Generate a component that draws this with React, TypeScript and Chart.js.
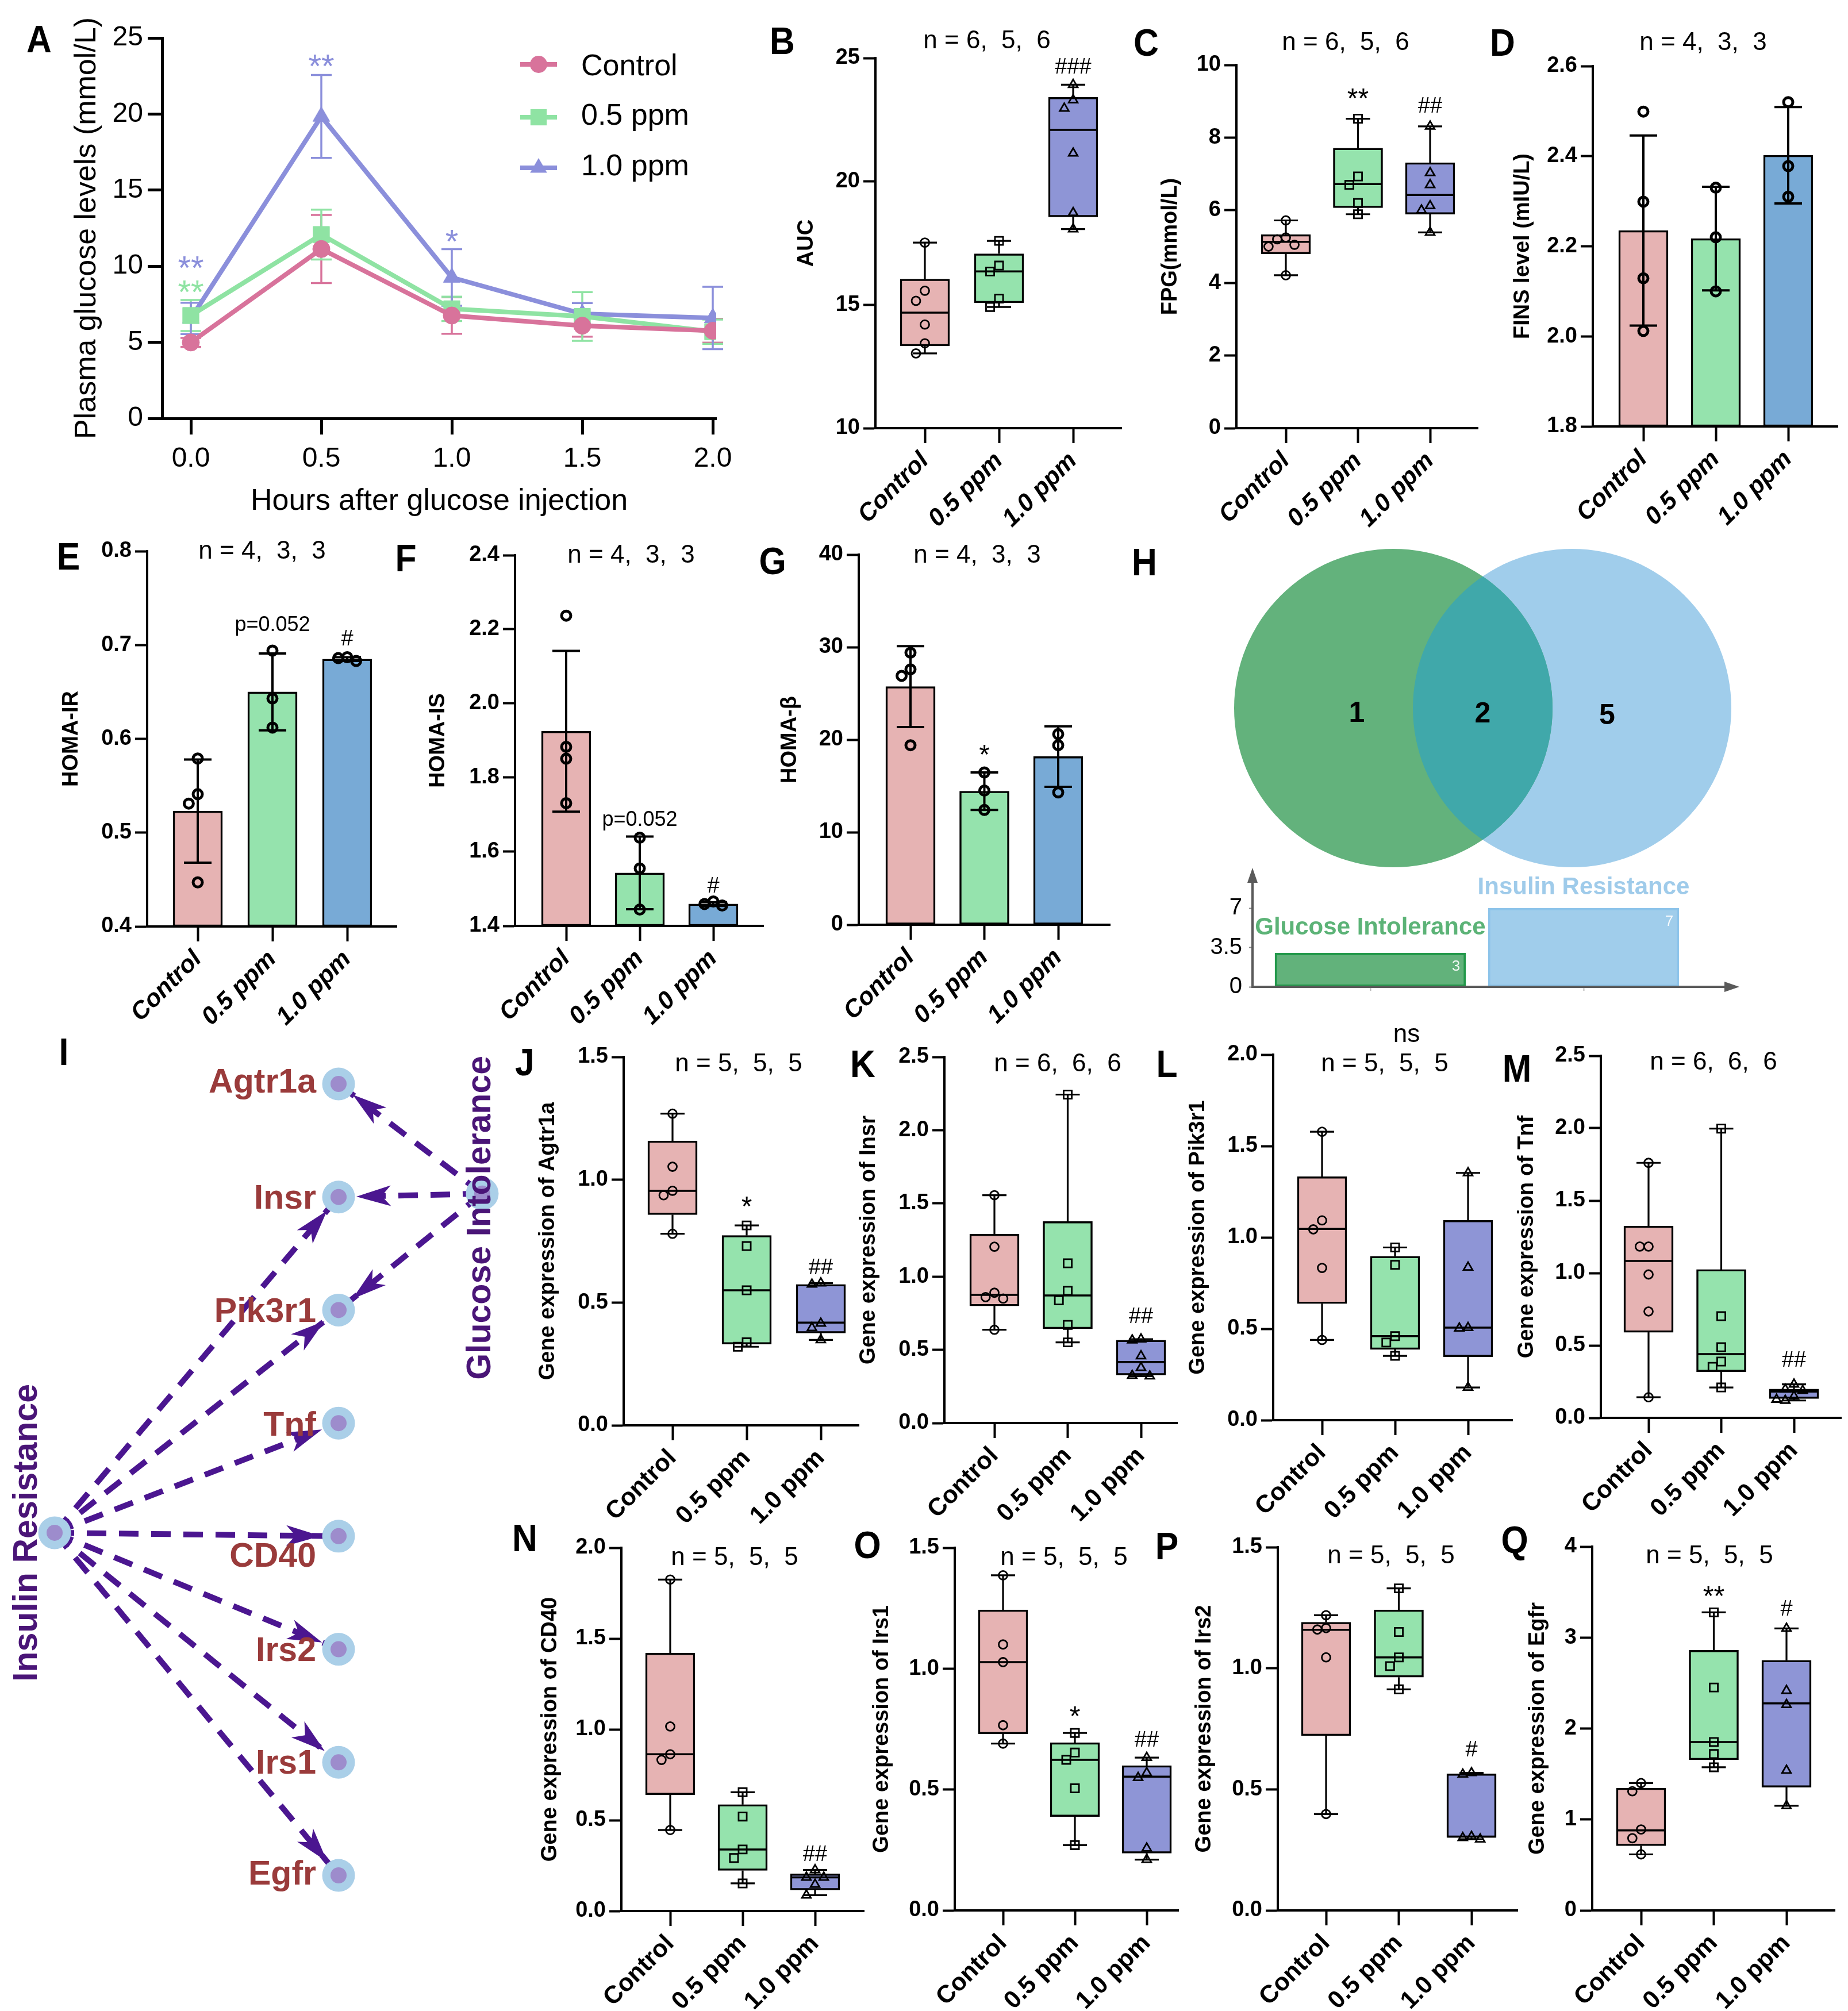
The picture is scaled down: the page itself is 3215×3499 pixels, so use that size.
import React, { useEffect, useRef } from "react";
import { Chart, registerables } from "chart.js";

Chart.register(...registerables);

const FF = "'Liberation Sans', Arial, Helvetica, sans-serif";
Chart.defaults.font.family = FF;
Chart.defaults.color = "#000";

const GROUPS = ["Control", "0.5 ppm", "1.0 ppm"];

// ---------------- Panel A (glucose tolerance test) ----------------
const aHours = [0, 0.5, 1.0, 1.5, 2.0];
const aTicksX = [0, 0.5, 1.0, 1.5, 2.0];
const aTicksY = [0, 5, 10, 15, 20, 25];
const aControl = [4.99, 11.13, 6.76, 6.09, 5.76];
const aControlErr = [0.3, 2.24, 1.2, 0.72, 0.78];
const a05 = [6.76, 12.08, 7.2, 6.7, 5.7];
const a05Err = [1.02, 1.64, 0.8, 1.6, 0.8];
const a10 = [6.57, 19.84, 9.26, 6.87, 6.6];
const a10Err = [1.03, 2.72, 1.86, 0.71, 2.05];
const aMarks = [
  { x: 0.5, v: 23.5, t: "**", s: 2 },
  { x: 1.0, v: 12.0, t: "*", s: 2 },
  { x: 0.0, v: 10.25, t: "**", s: 2 },
  { x: 0.0, v: 8.66, t: "**", s: 1 },
];

// ---------------- Box panels: [min, q1, median, q3, max] ----------------
const bTicks = [10, 15, 20, 25];
const bBox = [[13.03, 13.33, 14.68, 16.04, 17.52], [14.91, 15.08, 16.35, 17.07, 17.59], [18.07, 18.56, 22.09, 23.41, 23.92]];
const bPts = [[17.52, 15.57, 15.16, 14.2, 13.44, 13.03], [17.59, 16.59, 16.35, 15.25, 14.91], [23.92, 23.3, 22.96, 21.14, 18.73, 18.07]];
const bMarks = [{ g: 2, v: 24.68, t: "###" }];

const cTicks = [0, 2, 4, 6, 8, 10];
const cBox = [[4.21, 4.8, 5.13, 5.33, 5.72], [5.89, 6.07, 6.72, 7.71, 8.52], [5.39, 5.89, 6.42, 7.31, 8.31]];
const cPts = [[5.72, 5.25, 5.2, 5.05, 5.0, 4.21], [8.52, 6.93, 6.7, 6.2, 5.89], [8.31, 7.03, 6.7, 6.12, 6.0, 5.39]];
const cMarks = [{ g: 1, v: 9.22, t: "**" }, { g: 2, v: 8.9, t: "##" }];

// ---------------- Bar panels: mean, SD, points ----------------
const dTicks = [1.8, 2.0, 2.2, 2.4, 2.6];
const dMean = [2.235, 2.217, 2.402];
const dSd = [0.211, 0.115, 0.107];
const dPts = [[2.499, 2.299, 2.129, 2.012], [2.33, 2.22, 2.1], [2.52, 2.378, 2.31]];

const eTicks = [0.4, 0.5, 0.6, 0.7, 0.8];
const eMean = [0.523, 0.65, 0.685];
const eSd = [0.055, 0.041, 0.002];
const ePts = [[0.579, 0.541, 0.531, 0.447], [0.694, 0.643, 0.612], [0.687, 0.686, 0.683]];
const eMarks = [{ g: 1, v: 0.7205, t: "p=0.052" }, { g: 2, v: 0.708, t: "#" }];

const fTicks = [1.4, 1.6, 1.8, 2.0, 2.2, 2.4];
const fMean = [1.925, 1.543, 1.459];
const fSd = [0.217, 0.098, 0.005];
const fPts = [[2.237, 1.883, 1.851, 1.731], [1.638, 1.555, 1.444], [1.466, 1.459, 1.455]];
const fMarks = [{ g: 1, v: 1.684, t: "p=0.052" }, { g: 2, v: 1.511, t: "#" }];

const gTicks = [0, 10, 20, 30, 40];
const gMean = [25.74, 14.43, 18.18];
const gSd = [4.37, 2.03, 3.27];
const gPts = [[29.4, 27.6, 26.9, 19.4], [16.46, 14.5, 12.4], [20.6, 19.4, 14.3]];
const gMarks = [{ g: 1, v: 18.9, t: "*" }];

// ---------------- Gene expression box panels ----------------
const jTicks = [0, 0.5, 1.0, 1.5];
const jBox = [[0.78, 0.858, 0.955, 1.158, 1.269], [0.32, 0.331, 0.55, 0.773, 0.814], [0.348, 0.376, 0.418, 0.574, 0.579]];
const jPts = [[1.269, 1.053, 0.955, 0.937, 0.78], [0.814, 0.73, 0.55, 0.338, 0.32], [0.579, 0.574, 0.415, 0.397, 0.348]];
const jMarks = [{ g: 1, v: 0.911, t: "*" }, { g: 2, v: 0.647, t: "##" }];

const kTicks = [0, 0.5, 1.0, 1.5, 2.0, 2.5];
const kBox = [[0.637, 0.8, 0.875, 1.29, 1.556], [0.551, 0.644, 0.871, 1.376, 2.243], [0.32, 0.328, 0.417, 0.566, 0.573]];
const kPts = [[1.556, 1.204, 0.89, 0.86, 0.85, 0.637], [2.243, 1.091, 0.903, 0.838, 0.67, 0.551], [0.573, 0.566, 0.458, 0.378, 0.324, 0.32]];
const kMarks = [{ g: 2, v: 0.735, t: "##" }];

const lTicks = [0, 0.5, 1.0, 1.5, 2.0];
const lBox = [[0.439, 0.638, 1.046, 1.332, 1.578], [0.352, 0.387, 0.46, 0.897, 0.945], [0.179, 0.347, 0.506, 1.093, 1.353]];
const lPts = [[1.578, 1.093, 1.044, 0.833, 0.439], [0.945, 0.85, 0.46, 0.425, 0.352], [1.353, 0.836, 0.506, 0.503, 0.179]];
const lMarks: { g: number; v: number; t: string }[] = [];

const mTicks = [0, 0.5, 1.0, 1.5, 2.0, 2.5];
const mBox = [[0.142, 0.591, 1.083, 1.325, 1.761], [0.21, 0.319, 0.44, 1.024, 1.997], [0.12, 0.133, 0.182, 0.199, 0.232]];
const mPts = [[1.761, 1.183, 1.183, 0.99, 0.735, 0.142], [1.997, 0.702, 0.488, 0.389, 0.352, 0.21], [0.232, 0.197, 0.188, 0.149, 0.127, 0.12]];
const mMarks = [{ g: 2, v: 0.405, t: "##" }];

const nTicks = [0, 0.5, 1.0, 1.5, 2.0];
const nBox = [[0.446, 0.64, 0.863, 1.42, 1.825], [0.152, 0.223, 0.339, 0.586, 0.654], [0.087, 0.116, 0.185, 0.205, 0.226]];
const nPts = [[1.825, 1.016, 0.863, 0.832, 0.446], [0.654, 0.52, 0.339, 0.292, 0.152], [0.226, 0.185, 0.185, 0.146, 0.087]];
const nMarks = [{ g: 2, v: 0.319, t: "##" }];

const oTicks = [0, 0.5, 1.0, 1.5];
const oBox = [[0.69, 0.73, 1.027, 1.243, 1.386], [0.27, 0.388, 0.623, 0.694, 0.734], [0.21, 0.237, 0.553, 0.599, 0.632]];
const oPts = [[1.386, 1.1, 1.027, 0.766, 0.69], [0.734, 0.653, 0.623, 0.505, 0.27], [0.632, 0.569, 0.549, 0.257, 0.21]];
const oMarks = [{ g: 1, v: 0.824, t: "*" }, { g: 2, v: 0.71, t: "##" }];

const pTicks = [0, 0.5, 1.0, 1.5];
const pBox = [[0.398, 0.722, 1.159, 1.19, 1.219], [0.913, 0.963, 1.045, 1.241, 1.33], [0.294, 0.301, 0.305, 0.564, 0.568]];
const pPts = [[1.219, 1.166, 1.16, 1.045, 0.398], [1.33, 1.15, 1.045, 1.009, 0.913], [0.568, 0.562, 0.305, 0.3, 0.294]];
const pMarks = [{ g: 2, v: 0.668, t: "#" }];

const qTicks = [0, 1, 2, 3, 4];
const qBox = [[0.616, 0.712, 0.88, 1.346, 1.4], [1.574, 1.656, 1.852, 2.86, 3.277], [1.15, 1.354, 2.276, 2.75, 3.1]];
const qPts = [[1.4, 1.31, 0.89, 0.794, 0.616], [3.277, 2.451, 1.852, 1.72, 1.574], [3.1, 2.416, 2.262, 1.539, 1.15]];
const qMarks = [{ g: 1, v: 3.508, t: "**" }, { g: 2, v: 3.33, t: "#" }];

// ---------------- Panel H ----------------
const vennCounts = [1, 2, 5]; // GI only, shared, IR only
const hSets = ["Glucose Intolerance", "Insulin Resistance"];
const hTotals = [3, 7];
const hTicks = [0, 3.5, 7];

// ---------------- Panel I (network) ----------------
const netGenes = ["Agtr1a", "Insr", "Pik3r1", "Tnf", "CD40", "Irs2", "Irs1", "Egfr"];
const netHubs = ["Insulin Resistance", "Glucose Intolerance"];
const netEdgesGI = ["Agtr1a", "Insr", "Pik3r1"];
const netEdgesIR = ["Insr", "Pik3r1", "Tnf", "CD40", "Irs2", "Irs1", "Egfr"];
const netLayout = { geneCol: 1, irPos: [0, 3.97], giPos: [1.506, 0.97] };

// ---------------- styles ----------------
const BOX_FILLS = ["#e6b3b3", "#95e3ad", "#8e95d6"];
const BAR_FILLS = ["#e6b3b3", "#95e3ad", "#78aad6"];
const PT_STYLE = ["circle", "rect", "triangle"];
const PT_R = [7.5, 10, 9];
const A_COLORS = ["#d8739b", "#8fe3a3", "#8b8fdb"];
const A_STYLES = ["circle", "rect", "triangle"];
const A_R = [15, 20, 17];

function drawText(ctx: any, t: string, x: number, y: number, font: string, color: string, align: string = "center", sx: number = 1, rot: number = 0, spacing: string = "0px") {
  ctx.save();
  ctx.font = font;
  ctx.fillStyle = color;
  ctx.textAlign = align;
  ctx.textBaseline = "alphabetic";
  try { ctx.letterSpacing = spacing; } catch (e) { }
  const m = ctx.measureText(t);
  const off = (m.actualBoundingBoxAscent - m.actualBoundingBoxDescent) / 2;
  ctx.translate(x, y);
  if (rot) ctx.rotate(rot);
  if (sx !== 1) ctx.scale(sx, 1);
  ctx.fillText(t, 0, off);
  ctx.restore();
}

function seg(ctx: any, x1: number, y1: number, x2: number, y2: number) {
  ctx.beginPath();
  ctx.moveTo(x1, y1);
  ctx.lineTo(x2, y2);
  ctx.stroke();
}

function swarm(vals: number[], range: number): number[] {
  const placed: { dx: number; v: number }[] = [];
  const tol = range * 0.03;
  const step = 0.12;
  const cands = [0, -step, step, -2 * step, 2 * step, -3 * step, 3 * step];
  return vals.map((v) => {
    let dx = 0;
    for (const c of cands) {
      if (!placed.some((p) => Math.abs(p.v - v) < tol && Math.abs(p.dx - c) < step * 0.9)) { dx = c; break; }
    }
    placed.push({ dx, v });
    return dx;
  });
}

function axisStyle(tickLen: number, lw: number, color = "#000") {
  return {
    grid: { display: true, drawOnChartArea: false, drawTicks: true, tickLength: tickLen, tickWidth: lw, tickColor: color, offset: false },
    border: { display: true, width: lw, color, z: 1 },
  };
}

const baseOpts = {
  responsive: false,
  animation: false,
  devicePixelRatio: 1,
  events: [],
  plugins: { legend: { display: false }, tooltip: { enabled: false }, title: { display: false } },
};

type PanelDef = { key: string; x: number; y: number; w: number; h: number; make: (c: HTMLCanvasElement) => any };

// ---------------- Panel A ----------------
function panelA(): PanelDef {
  const ax = 282, top = 66, bottom = 728, right = 1246, x0 = 332, x2 = 1240;
  const cl = 20, ct = 0, cr = 1320, cb = 930;
  const unit = (x2 - x0) / 2;
  const xmin = -(x0 - ax) / unit, xmax = 2 + (right - x2) / unit;
  const vals = [aControl, a05, a10];
  const errs = [aControlErr, a05Err, a10Err];
  const legendY = [112, 204, 292];
  const make = (canvas: HTMLCanvasElement) => {
    const plugin = {
      id: "aExtras",
      beforeDatasetsDraw(chart: any) {
        const ctx = chart.ctx, xs = chart.scales.x, ys = chart.scales.y;
        ctx.save();
        vals.forEach((vs, s) => {
          ctx.strokeStyle = A_COLORS[s];
          ctx.lineWidth = 3.5;
          vs.forEach((v, i) => {
            const x = xs.getPixelForValue(aHours[i]);
            const hi = ys.getPixelForValue(v + errs[s][i]);
            const lo = ys.getPixelForValue(v - errs[s][i]);
            seg(ctx, x, lo, x, hi);
            seg(ctx, x - 18, lo, x + 18, lo);
            seg(ctx, x - 18, hi, x + 18, hi);
          });
        });
        ctx.restore();
      },
      afterDraw(chart: any) {
        const ctx = chart.ctx, xs = chart.scales.x, ys = chart.scales.y;
        drawText(ctx, "A", 68 - cl, 68 - ct, `bold 66px ${FF}`, "#000", "center", 0.92);
        aMarks.forEach((m) => {
          drawText(ctx, m.t, xs.getPixelForValue(m.x), ys.getPixelForValue(m.v), `58px ${FF}`, A_COLORS[m.s]);
        });
        GROUPS.forEach((g, i) => {
          const y = legendY[i] - ct;
          ctx.save();
          ctx.strokeStyle = A_COLORS[i];
          ctx.lineWidth = 8;
          seg(ctx, 905 - cl, y, 969 - cl, y);
          ctx.fillStyle = A_COLORS[i];
          const cx = 937 - cl, r = A_R[i];
          ctx.beginPath();
          if (A_STYLES[i] === "circle") ctx.arc(cx, y, r, 0, Math.PI * 2);
          else if (A_STYLES[i] === "rect") { const s = r * Math.SQRT1_2; ctx.rect(cx - s, y - s, 2 * s, 2 * s); }
          else {
            for (let k = 0; k < 3; k++) {
              const a = k * (2 * Math.PI / 3);
              const px = cx + Math.sin(a) * r, py = y - Math.cos(a) * r;
              if (k === 0) ctx.moveTo(px, py); else ctx.lineTo(px, py);
            }
            ctx.closePath();
          }
          ctx.fill();
          ctx.restore();
          drawText(ctx, g, 1011 - cl, y, `52px ${FF}`, "#000", "left");
        });
      },
    };
    return new Chart(canvas, {
      type: "line",
      data: {
        datasets: vals.map((vs, s) => ({
          label: GROUPS[s],
          data: vs.map((v, i) => ({ x: aHours[i], y: v })),
          borderColor: A_COLORS[s],
          backgroundColor: A_COLORS[s],
          borderWidth: 8,
          pointStyle: A_STYLES[s],
          pointRadius: A_R[s],
          pointBackgroundColor: A_COLORS[s],
          pointBorderColor: A_COLORS[s],
          pointBorderWidth: 1,
          tension: 0,
          fill: false,
        })),
      },
      options: {
        ...baseOpts,
        layout: { autoPadding: false, padding: { left: 0, top: top - ct, right: cr - right, bottom: 0 } },
        scales: {
          x: {
            type: "linear", min: xmin, max: xmax, offset: false,
            afterBuildTicks: (s: any) => { s.ticks = aTicksX.map((v) => ({ value: v })); },
            afterFit: (s: any) => { s.height = cb - bottom; },
            ticks: { autoSkip: false, minRotation: 0, maxRotation: 0, padding: 14, font: { size: 48 }, color: "#000", callback: (v: any) => Number(v).toFixed(1) },
            title: { display: true, text: "Hours after glucose injection", font: { size: 52 }, color: "#000", padding: { top: 0, bottom: cb - 873 - 31.2 } },
            ...axisStyle(28, 5),
          },
          y: {
            type: "linear", min: 0, max: 25,
            afterBuildTicks: (s: any) => { s.ticks = aTicksY.map((v) => ({ value: v })); },
            afterFit: (s: any) => { s.width = ax - cl; },
            ticks: { padding: 8, font: { size: 48 }, color: "#000", callback: (v: any) => String(v) },
            title: { display: true, text: "Plasma glucose levels (mmol/L)", font: { size: 52 }, color: "#000", padding: { top: 152 - cl - 31.2, bottom: 0 } },
            ...axisStyle(25, 5),
          },
        },
      },
      plugins: [plugin],
    } as any);
  };
  return { key: "A", x: cl, y: ct, w: cr - cl, h: cb - ct, make };
}

// ---------------- Box / bar panels ----------------
type Mark = { g: number; v: number; t: string };
type Spec = {
  letter: string; letterXY: [number, number];
  nText: string; nXY: [number, number];
  yTitle: string; yTitleX: number;
  ticks: number[]; dec: number;
  geo: { ax: number; top: number; bottom: number; right: number; c0: number; c2: number };
  kind: "box" | "bar";
  boxes?: number[][]; means?: number[]; sds?: number[];
  pts: number[][]; marks: Mark[]; italic: boolean; fills: string[];
  extra?: { t: string; xy: [number, number] }[];
};

function boxPanel(p: Spec): PanelDef {
  const { ax, top, bottom, right, c0, c2 } = p.geo;
  const cl = ax - 215, ct = Math.max(0, top - 130), cr = right + 20, cb = bottom + 230;
  const unit = (c2 - c0) / 2;
  const xmin = -(c0 - ax) / unit, xmax = 2 + (right - c2) / unit;
  const ymin = p.ticks[0], ymax = p.ticks[p.ticks.length - 1];
  const make = (canvas: HTMLCanvasElement) => {
    const datasets: any[] = p.pts.map((vs, i) => {
      const offs = swarm(vs, ymax - ymin);
      return {
        type: "scatter",
        data: vs.map((v, k) => ({ x: i + offs[k], y: v })),
        pointStyle: p.kind === "box" ? PT_STYLE[i] : "circle",
        radius: p.kind === "box" ? PT_R[i] : 8,
        borderColor: "#000",
        borderWidth: p.kind === "box" ? 2.8 : 5,
        backgroundColor: "rgba(0,0,0,0)",
      };
    });
    const barData = p.kind === "box"
      ? (p.boxes as number[][]).map((b, i) => ({ x: i, y: [b[1], b[3]] }))
      : (p.means as number[]).map((m, i) => ({ x: i, y: [ymin, m] }));
    datasets.push({
      type: "bar", data: barData, backgroundColor: p.fills, borderColor: "#000",
      borderWidth: 3.5, borderSkipped: false, barThickness: 86,
    });
    const plugin = {
      id: "extras" + p.letter,
      afterDatasetDraw(chart: any, args: any) {
        if (args.index !== 3) return;
        const ctx = chart.ctx, xs = chart.scales.x, ys = chart.scales.y;
        ctx.save();
        ctx.strokeStyle = "#000";
        if (p.kind === "box") {
          (p.boxes as number[][]).forEach((b, i) => {
            const x = xs.getPixelForValue(i);
            const [mn, q1, md, q3, mx] = b.map((v) => ys.getPixelForValue(v));
            ctx.lineWidth = 3.2;
            seg(ctx, x, mn, x, q1);
            seg(ctx, x, q3, x, mx);
            seg(ctx, x - 21, mn, x + 21, mn);
            seg(ctx, x - 21, mx, x + 21, mx);
            ctx.lineWidth = 3.5;
            seg(ctx, x - 42, md, x + 42, md);
          });
        } else {
          (p.means as number[]).forEach((m, i) => {
            const x = xs.getPixelForValue(i);
            const sd = (p.sds as number[])[i];
            const hi = ys.getPixelForValue(m + sd), lo = ys.getPixelForValue(m - sd);
            ctx.lineWidth = 4;
            seg(ctx, x, lo, x, hi);
            seg(ctx, x - 24, lo, x + 24, lo);
            seg(ctx, x - 24, hi, x + 24, hi);
          });
        }
        ctx.restore();
      },
      afterDraw(chart: any) {
        const ctx = chart.ctx, xs = chart.scales.x, ys = chart.scales.y;
        drawText(ctx, p.letter, p.letterXY[0] - cl, p.letterXY[1] - ct, `bold 66px ${FF}`, "#000", "center", 0.92);
        drawText(ctx, p.nText, p.nXY[0] - cl, p.nXY[1] - ct, `44px ${FF}`, "#000");
        (p.extra || []).forEach((e) => drawText(ctx, e.t, e.xy[0] - cl, e.xy[1] - ct, `44px ${FF}`, "#000"));
        p.marks.forEach((m) => {
          const size = m.t.includes("*") ? 48 : m.t.startsWith("p") ? 36 : 38;
          drawText(ctx, m.t, xs.getPixelForValue(m.g), ys.getPixelForValue(m.v), `${size}px ${FF}`, "#000");
        });
      },
    };
    return new Chart(canvas, {
      type: "bar",
      data: { datasets },
      options: {
        ...baseOpts,
        layout: { autoPadding: false, padding: { left: 0, top: top - ct, right: cr - right, bottom: 0 } },
        scales: {
          x: {
            type: "linear", min: xmin, max: xmax, offset: false,
            afterBuildTicks: (s: any) => { s.ticks = [0, 1, 2].map((v) => ({ value: v })); },
            afterFit: (s: any) => { s.height = cb - bottom; },
            ticks: {
              autoSkip: false, minRotation: 45, maxRotation: 45, padding: 6, color: "#000",
              font: { size: 43, weight: "bold", style: p.italic ? "italic" : "normal" },
              callback: (v: any) => GROUPS[Math.round(Number(v))] || "",
            },
            ...axisStyle(26, 4),
          },
          y: {
            type: "linear", min: ymin, max: ymax,
            afterBuildTicks: (s: any) => { s.ticks = p.ticks.map((v) => ({ value: v })); },
            afterFit: (s: any) => { s.width = ax - cl; },
            ticks: { padding: 6, color: "#000", font: { size: 38, weight: "bold" }, callback: (v: any) => Number(v).toFixed(p.dec) },
            title: { display: true, text: p.yTitle, color: "#000", font: { size: 38, weight: "bold" }, padding: { top: p.yTitleX - cl - 22.8, bottom: 0 } },
            ...axisStyle(21, 4),
          },
        },
      },
      plugins: [plugin],
    } as any);
  };
  return { key: p.letter, x: cl, y: ct, w: cr - cl, h: cb - ct, make };
}

const specs: Spec[] = [
  { letter: "B", letterXY: [1361, 71], nText: "n = 6,  5,  6", nXY: [1717, 71], yTitle: "AUC", yTitleX: 1404, ticks: bTicks, dec: 0,
    geo: { ax: 1523, top: 101, bottom: 745, right: 1951, c0: 1609, c2: 1867 }, kind: "box", boxes: bBox, pts: bPts, marks: bMarks, italic: true, fills: BOX_FILLS },
  { letter: "C", letterXY: [1994, 74], nText: "n = 6,  5,  6", nXY: [2341, 74], yTitle: "FPG(mmol/L)", yTitleX: 2037, ticks: cTicks, dec: 0,
    geo: { ax: 2151, top: 113, bottom: 745, right: 2571, c0: 2237, c2: 2488 }, kind: "box", boxes: cBox, pts: cPts, marks: cMarks, italic: true, fills: BOX_FILLS },
  { letter: "D", letterXY: [2614, 74], nText: "n = 4,  3,  3", nXY: [2963, 74], yTitle: "FINS level (mIU/L)", yTitleX: 2650, ticks: dTicks, dec: 1,
    geo: { ax: 2771, top: 115, bottom: 742, right: 3197, c0: 2859, c2: 3111 }, kind: "bar", means: dMean, sds: dSd, pts: dPts, marks: [], italic: true, fills: BAR_FILLS },
  { letter: "E", letterXY: [119, 968], nText: "n = 4,  3,  3", nXY: [456, 959], yTitle: "HOMA-IR", yTitleX: 125, ticks: eTicks, dec: 1,
    geo: { ax: 256, top: 959, bottom: 1612, right: 690, c0: 344, c2: 604 }, kind: "bar", means: eMean, sds: eSd, pts: ePts, marks: eMarks, italic: true, fills: BAR_FILLS },
  { letter: "F", letterXY: [706, 971], nText: "n = 4,  3,  3", nXY: [1098, 966], yTitle: "HOMA-IS", yTitleX: 763, ticks: fTicks, dec: 1,
    geo: { ax: 896, top: 966, bottom: 1611, right: 1328, c0: 985, c2: 1241 }, kind: "bar", means: fMean, sds: fSd, pts: fPts, marks: fMarks, italic: true, fills: BAR_FILLS },
  { letter: "G", letterXY: [1344, 976], nText: "n = 4,  3,  3", nXY: [1700, 966], yTitle: "HOMA-β", yTitleX: 1375, ticks: gTicks, dec: 0,
    geo: { ax: 1494, top: 965, bottom: 1609, right: 1931, c0: 1584, c2: 1841 }, kind: "bar", means: gMean, sds: gSd, pts: gPts, marks: gMarks, italic: true, fills: BAR_FILLS },
  { letter: "J", letterXY: [913, 1848], nText: "n = 5,  5,  5", nXY: [1285, 1851], yTitle: "Gene expression of Agtr1a", yTitleX: 954, ticks: jTicks, dec: 1,
    geo: { ax: 1085, top: 1839, bottom: 2480, right: 1494, c0: 1170, c2: 1428 }, kind: "box", boxes: jBox, pts: jPts, marks: jMarks, italic: false, fills: BOX_FILLS },
  { letter: "K", letterXY: [1501, 1851], nText: "n = 6,  6,  6", nXY: [1840, 1851], yTitle: "Gene expression of Insr", yTitleX: 1512, ticks: kTicks, dec: 1,
    geo: { ax: 1643, top: 1839, bottom: 2476, right: 2048, c0: 1730, c2: 1985 }, kind: "box", boxes: kBox, pts: kPts, marks: kMarks, italic: false, fills: BOX_FILLS },
  { letter: "L", letterXY: [2030, 1851], nText: "n = 5,  5,  5", nXY: [2409, 1851], yTitle: "Gene expression of Pik3r1", yTitleX: 2085, ticks: lTicks, dec: 1,
    geo: { ax: 2215, top: 1835, bottom: 2471, right: 2631, c0: 2300, c2: 2554 }, kind: "box", boxes: lBox, pts: lPts, marks: lMarks, italic: false, fills: BOX_FILLS,
    extra: [{ t: "ns", xy: [2447, 1801] }] },
  { letter: "M", letterXY: [2639, 1859], nText: "n = 6,  6,  6", nXY: [2981, 1848], yTitle: "Gene expression of Tnf", yTitleX: 2657, ticks: mTicks, dec: 1,
    geo: { ax: 2785, top: 1837, bottom: 2467, right: 3203, c0: 2868, c2: 3121 }, kind: "box", boxes: mBox, pts: mPts, marks: mMarks, italic: false, fills: BOX_FILLS },
  { letter: "N", letterXY: [913, 2676], nText: "n = 5,  5,  5", nXY: [1278, 2710], yTitle: "Gene expression of CD40", yTitleX: 958, ticks: nTicks, dec: 1,
    geo: { ax: 1081, top: 2693, bottom: 3325, right: 1503, c0: 1166, c2: 1418 }, kind: "box", boxes: nBox, pts: nPts, marks: nMarks, italic: false, fills: BOX_FILLS },
  { letter: "O", letterXY: [1509, 2688], nText: "n = 5,  5,  5", nXY: [1851, 2710], yTitle: "Gene expression of Irs1", yTitleX: 1535, ticks: oTicks, dec: 1,
    geo: { ax: 1661, top: 2693, bottom: 3324, right: 2050, c0: 1745, c2: 1995 }, kind: "box", boxes: oBox, pts: oPts, marks: oMarks, italic: false, fills: BOX_FILLS },
  { letter: "P", letterXY: [2030, 2690], nText: "n = 5,  5,  5", nXY: [2420, 2707], yTitle: "Gene expression of Irs2", yTitleX: 2096, ticks: pTicks, dec: 1,
    geo: { ax: 2223, top: 2692, bottom: 3324, right: 2640, c0: 2307, c2: 2560 }, kind: "box", boxes: pBox, pts: pPts, marks: pMarks, italic: false, fills: BOX_FILLS },
  { letter: "Q", letterXY: [2635, 2685], nText: "n = 5,  5,  5", nXY: [2974, 2707], yTitle: "Gene expression of Egfr", yTitleX: 2676, ticks: qTicks, dec: 0,
    geo: { ax: 2770, top: 2691, bottom: 3324, right: 3192, c0: 2855, c2: 3108 }, kind: "box", boxes: qBox, pts: qPts, marks: qMarks, italic: false, fills: BOX_FILLS },
];

// ---------------- Panel H: Venn ----------------
function vennPanel(): PanelDef {
  const g = { left: 1960, top: 930, right: 3100, bottom: 1530, c1x: 2424, c2x: 2735, cy: 1232 };
  const unit = (g.c2x - g.c1x) / 2;
  const xmin = -1 - (g.c1x - g.left) / unit, xmax = 1 + (g.right - g.c2x) / unit;
  const ymax = (g.cy - g.top) / unit, ymin = -(g.bottom - g.cy) / unit;
  const make = (canvas: HTMLCanvasElement) => {
    const plugin = {
      id: "venn",
      afterDatasetsDraw(chart: any) {
        const ctx = chart.ctx;
        const a = chart.getDatasetMeta(0).data[0] as any;
        const b = chart.getDatasetMeta(1).data[0] as any;
        const ra = a.options.radius, rb = b.options.radius;
        ctx.save();
        ctx.beginPath();
        ctx.arc(a.x, a.y, ra, 0, Math.PI * 2);
        ctx.clip();
        ctx.beginPath();
        ctx.arc(b.x, b.y, rb, 0, Math.PI * 2);
        ctx.fillStyle = "#40a8aa";
        ctx.fill();
        ctx.restore();
        const font = `bold 50px ${FF}`;
        drawText(ctx, String(vennCounts[0]), a.x - 0.23 * ra, a.y + 6, font, "#000");
        drawText(ctx, String(vennCounts[1]), (a.x + b.x) / 2, a.y + 7, font, "#000");
        drawText(ctx, String(vennCounts[2]), b.x + 0.22 * rb, b.y + 10, font, "#000");
      },
      afterDraw(chart: any) {
        drawText(chart.ctx, "H", 1991 - g.left, 978 - g.top, `bold 66px ${FF}`, "#000", "center", 0.92);
      },
    };
    return new Chart(canvas, {
      type: "bubble",
      data: {
        datasets: [
          { data: [{ x: -1, y: 0 }], radius: 277, backgroundColor: "#63b27c", borderWidth: 0, clip: false },
          { data: [{ x: 1, y: 0 }], radius: 277, backgroundColor: "#a0cdeb", borderWidth: 0, clip: false },
        ],
      },
      options: {
        ...baseOpts,
        layout: { autoPadding: false, padding: 0 },
        scales: {
          x: { type: "linear", display: false, min: xmin, max: xmax },
          y: { type: "linear", display: false, min: ymin, max: ymax },
        },
      },
      plugins: [plugin],
    } as any);
  };
  return { key: "Hv", x: g.left, y: g.top, w: g.right - g.left, h: g.bottom - g.top, make };
}

// ---------------- Panel H: set-size bars ----------------
function hBarPanel(): PanelDef {
  const cl = 2100, ct = 1500, cr = 3060, cb = 1762;
  const left = 2179, right = 3000, top = 1536, bottom = 1717, c0 = 2384, c1 = 2755, v7 = 1580;
  const ymax = 7 * (bottom - top) / (bottom - v7);
  const xmin = -(c0 - left) / (c1 - c0), xmax = 1 + (right - c1) / (c1 - c0);
  const labelColors = ["#5cb377", "#9fcbea"];
  const make = (canvas: HTMLCanvasElement) => {
    const plugin = {
      id: "hbars",
      afterDraw(chart: any) {
        const ctx = chart.ctx, area = chart.chartArea;
        ctx.save();
        ctx.fillStyle = "#5a5a5a";
        ctx.beginPath();
        ctx.moveTo(area.left, area.top - 26);
        ctx.lineTo(area.left - 9, area.top);
        ctx.lineTo(area.left + 9, area.top);
        ctx.closePath();
        ctx.fill();
        ctx.beginPath();
        ctx.moveTo(area.right + 26, area.bottom);
        ctx.lineTo(area.right, area.bottom - 9);
        ctx.lineTo(area.right, area.bottom + 9);
        ctx.closePath();
        ctx.fill();
        ctx.restore();
        const meta = chart.getDatasetMeta(0);
        meta.data.forEach((bar: any, i: number) => {
          const half = bar.width / 2;
          drawText(ctx, String(hTotals[i]), bar.x + half - 17, bar.y + 22, `26px ${FF}`, "rgba(255,255,255,0.9)");
          drawText(ctx, hSets[i], bar.x, bar.y - (i === 0 ? 48 : 40), `bold 42px ${FF}`, labelColors[i]);
        });
      },
    };
    return new Chart(canvas, {
      type: "bar",
      data: {
        datasets: [{
          data: hTotals.map((v, i) => ({ x: i, y: v })),
          backgroundColor: ["#62b27b", "#a0cdeb"],
          borderColor: ["#23994b", "#8dc4ea"],
          borderWidth: 4, borderSkipped: false, barThickness: 332,
        }],
      },
      options: {
        ...baseOpts,
        layout: { autoPadding: false, padding: { left: 0, top: top - ct, right: cr - right, bottom: 0 } },
        scales: {
          x: {
            type: "linear", min: xmin, max: xmax, offset: false,
            afterBuildTicks: (s: any) => { s.ticks = [0, 1].map((v) => ({ value: v })); },
            afterFit: (s: any) => { s.height = cb - bottom; },
            ticks: { display: false },
            grid: { display: true, drawOnChartArea: false, drawTicks: true, tickLength: 7, tickWidth: 2, tickColor: "#bbbbbb", offset: false },
            border: { display: true, width: 4, color: "#5a5a5a", z: 1 },
          },
          y: {
            type: "linear", min: 0, max: ymax,
            afterBuildTicks: (s: any) => { s.ticks = hTicks.map((v) => ({ value: v })); },
            afterFit: (s: any) => { s.width = left - cl; },
            ticks: { padding: 12, color: "#000", font: { size: 40 }, callback: (v: any) => String(v) },
            grid: { display: true, drawOnChartArea: false, drawTicks: true, tickLength: 6, tickWidth: 2, tickColor: "#888888", offset: false },
            border: { display: true, width: 4, color: "#5a5a5a", z: 1 },
          },
        },
      },
      plugins: [plugin],
    } as any);
  };
  return { key: "Hb", x: cl, y: ct, w: cr - cl, h: cb - ct, make };
}

// ---------------- Panel I: network ----------------
function netPanel(): PanelDef {
  const cl = 0, ct = 1780, cr = 960, cb = 3420;
  const x0px = 95, x1px = 589, y0px = 1886, y7px = 3263;
  const ux = x1px - x0px, uy = (y7px - y0px) / 7;
  const xmin = (cl - x0px) / ux, xmax = (cr - x0px) / ux;
  const ymin = (ct - y0px) / uy, ymax = (cb - y0px) / uy;
  const pos: Record<string, number[]> = {};
  netGenes.forEach((g, i) => { pos[g] = [netLayout.geneCol, i]; });
  pos[netHubs[0]] = netLayout.irPos;
  pos[netHubs[1]] = netLayout.giPos;
  const allNodes = [...netGenes, ...netHubs];
  const nodeData = allNodes.map((n) => ({ x: pos[n][0], y: pos[n][1] }));
  const edges = [...netEdgesGI.map((t) => [netHubs[1], t]), ...netEdgesIR.map((t) => [netHubs[0], t])];
  const PURPLE = "#4b1690";
  const make = (canvas: HTMLCanvasElement) => {
    const plugin = {
      id: "net",
      afterDatasetsDraw(chart: any) {
        const ctx = chart.ctx;
        edges.forEach((_e, k) => {
          const meta = chart.getDatasetMeta(2 + k);
          const s = meta.data[0], t = meta.data[1];
          const dx = t.x - s.x, dy = t.y - s.y, len = Math.hypot(dx, dy);
          const ux2 = dx / len, uy2 = dy / len;
          const tipX = t.x - ux2 * 31, tipY = t.y - uy2 * 31;
          const L = 60, hw = 18;
          const bx = tipX - ux2 * L, by = tipY - uy2 * L;
          const nx = -uy2, ny = ux2;
          ctx.save();
          ctx.fillStyle = PURPLE;
          ctx.beginPath();
          ctx.moveTo(tipX, tipY);
          ctx.lineTo(bx + nx * hw, by + ny * hw);
          ctx.lineTo(tipX - ux2 * (L - 16), tipY - uy2 * (L - 16));
          ctx.lineTo(bx - nx * hw, by - ny * hw);
          ctx.closePath();
          ctx.fill();
          ctx.restore();
        });
      },
      afterDraw(chart: any) {
        const ctx = chart.ctx;
        const nodes = chart.getDatasetMeta(0).data;
        netGenes.forEach((g, i) => {
          const n = nodes[i];
          const yOff = g === "CD40" ? 33 : 0;
          drawText(ctx, g, n.x - 39, n.y + yOff, `bold 59px ${FF}`, "#9a3b3b", "right");
        });
        const ir = nodes[netGenes.length], gi = nodes[netGenes.length + 1];
        drawText(ctx, netHubs[0], ir.x - 52, ir.y, `bold 59px ${FF}`, "#4a1577", "center", 1, -Math.PI / 2);
        drawText(ctx, netHubs[1], gi.x - 7, gi.y + 42, `bold 59px ${FF}`, "#4a1577", "center", 1, -Math.PI / 2);
        drawText(ctx, "I", 111 - cl, 1830 - ct, `bold 66px ${FF}`, "#000", "center", 0.92);
      },
    };
    return new Chart(canvas, {
      type: "scatter",
      data: {
        datasets: [
          { type: "scatter", data: nodeData, radius: 14, backgroundColor: "#9d8ccc", borderWidth: 0 },
          { type: "scatter", data: nodeData, radius: 28.5, backgroundColor: "#aacfe8", borderWidth: 0 },
          ...edges.map(([s, t]) => ({
            type: "line",
            data: [{ x: pos[s][0], y: pos[s][1] }, { x: pos[t][0], y: pos[t][1] }],
            borderColor: PURPLE, borderWidth: 10, borderDash: [34, 22],
            pointRadius: 0, fill: false, tension: 0, showLine: true,
          })),
        ],
      },
      options: {
        ...baseOpts,
        layout: { autoPadding: false, padding: 0 },
        scales: {
          x: { type: "linear", display: false, min: xmin, max: xmax },
          y: { type: "linear", display: false, min: ymin, max: ymax, reverse: true },
        },
      },
      plugins: [plugin],
    } as any);
  };
  return { key: "I", x: cl, y: ct, w: cr - cl, h: cb - ct, make };
}

function ChartBox(props: PanelDef) {
  const ref = useRef<HTMLCanvasElement | null>(null);
  useEffect(() => {
    const c = ref.current;
    if (!c) return;
    const ch = props.make(c);
    return () => { ch.destroy(); };
  }, []);
  return (
    <canvas
      ref={ref}
      width={props.w}
      height={props.h}
      style={{ position: "absolute", left: props.x, top: props.y, width: props.w + "px", height: props.h + "px" }}
    />
  );
}

const PANELS: PanelDef[] = [panelA(), ...specs.map(boxPanel), vennPanel(), hBarPanel(), netPanel()];

export default function App() {
  return (
    <div style={{ position: "absolute", left: 0, top: 0, width: 3215, height: 3499, background: "#ffffff", overflow: "hidden" }}>
      {PANELS.map((p) => <ChartBox key={p.key} {...p} />)}
    </div>
  );
}
